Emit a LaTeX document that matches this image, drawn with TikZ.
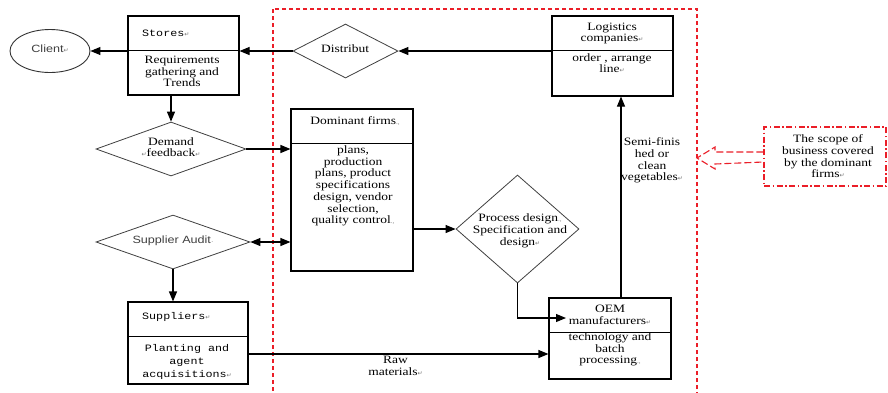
\documentclass[tikz,border=0pt]{standalone}
\usepackage{fontspec}
\usetikzlibrary{shapes.geometric,arrows.meta}
\setmainfont{Liberation Serif}[FakeStretch=1.2]
\newfontfamily\wmono{Liberation Mono}[FakeStretch=1.2]
\newfontfamily\wsans{Liberation Sans}[FakeStretch=1.2]
\newfontfamily\symfnt{DejaVu Sans}
\newcommand\retmark{{\symfnt\fontsize{6}{6}\selectfont\textcolor{black!55}{↵}}}
\newcommand\dotmark{{\fontsize{6}{6}\selectfont\textcolor{black!55}{.,}}}
\definecolor{redd}{RGB}{235,30,40}
\tikzset{
  box/.style={draw=black, line width=1.1pt, rectangle, inner sep=0pt},
  dia/.style={draw=black!75, line width=0.8pt, diamond, inner sep=0pt},
  txt/.style={align=center, inner sep=0pt, font=\fontsize{11.25}{11.7}\selectfont},
  mtxt/.style={align=center, inner sep=0pt, font=\wmono\fontsize{9.75}{12.8}\selectfont},
  stxt/.style={inner sep=0pt, text=black!75, font=\wsans\fontsize{10.5}{12}\selectfont},
  arr/.style={line width=1.1pt, -{Triangle[length=10pt,width=8pt]}},
  darr/.style={line width=1.1pt, {Triangle[length=10pt,width=8pt]}-{Triangle[length=10pt,width=8pt]}},
}
\begin{document}
\begin{tikzpicture}[x=1pt,y=-1pt]
\useasboundingbox (0,0) rectangle (888,392);
\clip (0,0) rectangle (888,392);
\fill[white] (0,0) rectangle (888,392);

% scope frame
\draw[redd, line width=1.1pt, dash pattern=on 4pt off 3pt] (273,9) rectangle (697,400);

% nodes
\node[ellipse, draw=black!80, line width=0.9pt, minimum width=80pt, minimum height=43pt, inner sep=0pt] (client) at (50,51) {};
\node[stxt] (clientt) at (50,49) {Client\retmark};

\node[box, minimum width=111pt, minimum height=79pt] (stores) at (183.5,55.5) {};
\node[mtxt, anchor=west] (storest) at (142,33) {Stores\retmark};
\node[txt] (storesb) at (182,71.5) {Requirements\\gathering and\\Trends};

\node[dia, minimum width=150pt, minimum height=54pt] (demand) at (171,149) {};
\node[txt] (demandt) at (171,147) {Demand\\\retmark feedback\retmark};

\node[dia, minimum width=154pt, minimum height=54pt] (audit) at (173,242) {};
\node[stxt] (auditt) at (173,241) {Supplier Audit{\fontsize{6}{6}\selectfont\textcolor{black!55}{·}}};

\node[box, minimum width=120pt, minimum height=82pt] (sup) at (188,343) {};
\node[mtxt, anchor=west] (supt) at (142,317) {Suppliers\retmark};
\node[mtxt] (supb) at (187,362) {Planting and\\agent\\acquisitions\retmark};

\node[dia, minimum width=105pt, minimum height=54pt] (dist) at (345.5,51) {};
\node[txt] (distt) at (345,49) {Distribut};

\node[box, minimum width=121pt, minimum height=80pt] (logi) at (612.5,56) {};
\node[txt] (logit) at (612,33.5) {Logistics\\companies\retmark};
\node[txt] (logib) at (612,63) {order , arrange\\line\retmark};

\node[box, minimum width=122pt, minimum height=162pt] (dom) at (352,190) {};
\node[txt] (domt) at (355,121) {Dominant firms\dotmark};
\node[txt] (domb) at (353,186) {plans,\\production\\plans, product\\specifications\\design, vendor\\selection,\\quality control\dotmark};

\node[dia, minimum width=123pt, minimum height=108pt] (proc) at (517.5,229) {};
\node[txt] (proct) at (520,231) {Process design\dotmark\\Specification and\\design\retmark};

\node[box, minimum width=122pt, minimum height=81pt] (oem) at (610,338.5) {};
\node[txt] (oemt) at (610,314.5) {OEM\\manufacturers\retmark};
\node[txt] (oemb) at (610,349.5) {technology and\\batch\\processing\dotmark};

\node[draw=redd, line width=1.1pt, dash pattern=on 6pt off 2.5pt on 1.5pt off 2.5pt, rectangle, minimum width=122pt, minimum height=59pt, inner sep=0pt] (scope) at (825,156.5) {};
\node[txt] (scopet) at (828,156.5) {The scope of\\business covered\\by the dominant\\firms\retmark};

% dividers
\draw[line width=1.1pt] ([yshift=-35pt]stores.north west) -- ([yshift=-35pt]stores.north east);
\draw[line width=1.1pt] ([yshift=-35pt]sup.north west) -- ([yshift=-35pt]sup.north east);
\draw[line width=1.1pt] ([yshift=-35pt]logi.north west) -- ([yshift=-35pt]logi.north east);
\draw[line width=1.1pt] ([yshift=-35pt]dom.north west) -- ([yshift=-35pt]dom.north east);
\draw[line width=1.1pt] ([yshift=-35pt]oem.north west) -- ([yshift=-35pt]oem.north east);

% connectors
\draw[arr] ([yshift=5pt]logi.west) -- (dist.east);
\draw[arr] (dist.west) -- (dist.west -| stores.east);
\draw[arr] (client.east -| stores.west) -- (client.east);
\draw[arr] (demand.north |- stores.south) -- (demand.north);
\draw[arr] (demand.east) -- (demand.east -| dom.west);
\draw[darr] (audit.east) -- (audit.east -| dom.west);
\draw[arr] (audit.south) -- (audit.south |- sup.north);
\draw[arr] (proc.west -| dom.east) -- (proc.west);
\coordinate (oemin) at (566,318);
\draw[arr] (proc.south) |- (oemin);
\draw[arr] ([yshift=-11pt]sup.east) -- ([yshift=-11pt]sup.east -| oem.west)
  node[txt, pos=0.49, below=2pt] (rawt) {Raw\\materials\retmark};
\draw[arr] ([xshift=11pt]oem.north) -- ([xshift=11pt]oem.north |- logi.south);
\node[txt] (semit) at (652,160.5) {Semi-finis\\hed or\\clean\\vegetables\retmark};

% hollow dashed arrow to the frame
\draw[redd, line width=1.1pt, dash pattern=on 7pt off 3pt]
  ([yshift=4.5pt]scope.west) -- (715,152) -- (715,147) -- (697,158) -- (715,169) -- (715,164) -- ([yshift=-5.5pt]scope.west);
\end{tikzpicture}
\end{document}
